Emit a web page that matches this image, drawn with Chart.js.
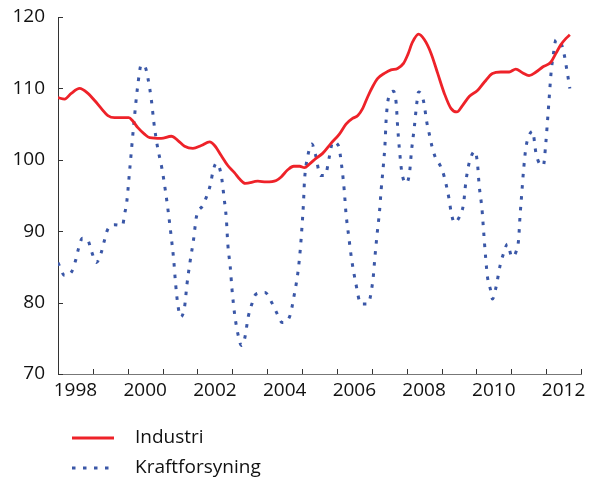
<!DOCTYPE html>
<html>
<head>
<meta charset="utf-8">
<script src="https://cdn.jsdelivr.net/npm/chart.js@4.4.1/dist/chart.umd.min.js"></script>
<style>
  html, body { margin: 0; padding: 0; background: #fff; }
  #wrap { width: 595px; height: 479px; }
</style>
</head>
<body>
<div id="wrap"><canvas id="chart" width="595" height="479"></canvas></div>
<script>
// Industri (red solid line): decimal year and index value
var industriYears = [
  1998.00, 1998.19, 1998.38, 1998.62, 1998.86, 1999.05, 1999.24, 1999.43, 1999.62, 1999.82,
  2000.03, 2000.15, 2000.29, 2000.48, 2000.63, 2000.96, 2001.25, 2001.44, 2001.63, 2001.87,
  2002.11, 2002.35, 2002.49, 2002.68, 2002.87, 2003.06, 2003.21, 2003.37, 2003.73, 2003.97,
  2004.26, 2004.40, 2004.59, 2004.76, 2004.93, 2005.07, 2005.21, 2005.40, 2005.59, 2005.83,
  2006.07, 2006.26, 2006.45, 2006.60, 2006.74, 2006.88, 2007.03, 2007.17, 2007.36, 2007.55,
  2007.74, 2007.91, 2008.03, 2008.17, 2008.34, 2008.51, 2008.70, 2008.89, 2009.08, 2009.27,
  2009.44, 2009.60, 2009.80, 2010.03, 2010.23, 2010.46, 2010.70, 2010.94, 2011.13, 2011.32,
  2011.51, 2011.71, 2011.90, 2012.14, 2012.28, 2012.42, 2012.57, 2012.68
];
var industriValues = [
  108.7, 108.5, 109.3, 110.0, 109.3, 108.3, 107.2, 106.2, 105.9, 105.9,
  105.9, 105.4, 104.5, 103.6, 103.1, 103.0, 103.3, 102.7, 101.9, 101.6,
  102.0, 102.5, 102.0, 100.6, 99.2, 98.2, 97.3, 96.7, 97.0, 96.9,
  97.1, 97.6, 98.6, 99.1, 99.1, 98.9, 99.4, 100.2, 100.9, 102.3,
  103.6, 105.0, 105.8, 106.2, 107.2, 108.8, 110.3, 111.4, 112.1, 112.6,
  112.8, 113.5, 114.7, 116.5, 117.6, 116.8, 114.9, 112.1, 109.3, 107.2,
  106.7, 107.6, 108.9, 109.7, 110.9, 112.1, 112.3, 112.3, 112.7, 112.2,
  111.8, 112.3, 113.0, 113.7, 114.9, 116.1, 117.0, 117.5
];

// Kraftforsyning (blue dotted line)
var kraftYears = [
  1998.00, 1998.19, 1998.40, 1998.51, 1998.59, 1998.70, 1998.86, 1998.96, 1999.10, 1999.24,
  1999.32, 1999.42, 1999.62, 1999.85, 1999.91, 1999.97, 2000.06, 2000.18, 2000.28, 2000.39,
  2000.50, 2000.58, 2000.68, 2000.75, 2000.85, 2000.98, 2001.08, 2001.17, 2001.25, 2001.32,
  2001.37, 2001.44, 2001.52, 2001.63, 2001.70, 2001.79, 2001.89, 2001.97, 2002.15, 2002.28,
  2002.38, 2002.44, 2002.54, 2002.68, 2002.76, 2002.83, 2002.87, 2002.94, 2002.99, 2003.06,
  2003.16, 2003.26, 2003.35, 2003.46, 2003.56, 2003.68, 2003.94, 2004.11, 2004.27, 2004.43,
  2004.64, 2004.78, 2004.88, 2004.95, 2005.00, 2005.04, 2005.07, 2005.16, 2005.28, 2005.38,
  2005.53, 2005.66, 2005.79, 2005.88, 2006.04, 2006.14, 2006.21, 2006.26, 2006.34, 2006.42,
  2006.53, 2006.69, 2006.88, 2007.03, 2007.09, 2007.15, 2007.22, 2007.27, 2007.33, 2007.38,
  2007.41, 2007.48, 2007.62, 2007.70, 2007.74, 2007.79, 2007.86, 2007.98, 2008.08, 2008.14,
  2008.22, 2008.29, 2008.34, 2008.48, 2008.58, 2008.65, 2008.72, 2008.81, 2008.97, 2009.08,
  2009.16, 2009.22, 2009.27, 2009.37, 2009.54, 2009.63, 2009.70, 2009.80, 2009.96, 2010.03,
  2010.08, 2010.16, 2010.21, 2010.26, 2010.32, 2010.40, 2010.46, 2010.56, 2010.68, 2010.78,
  2010.89, 2011.02, 2011.15, 2011.21, 2011.25, 2011.30, 2011.35, 2011.42, 2011.50, 2011.61,
  2011.71, 2011.82, 2011.92, 2011.99, 2012.04, 2012.09, 2012.14, 2012.22, 2012.28, 2012.42,
  2012.52, 2012.57, 2012.68
];
var kraftValues = [
  85.6, 83.8, 84.4, 86.0, 87.6, 89.0, 88.7, 87.2, 85.6, 87.0,
  88.5, 90.2, 90.9, 90.8, 92.4, 94.0, 98.8, 105.3, 110.1, 113.3,
  113.0, 111.4, 108.3, 105.2, 101.9, 98.8, 95.7, 92.4, 89.1, 85.9,
  82.8, 79.6, 78.0, 79.4, 82.6, 85.8, 88.9, 92.0, 93.6, 95.1,
  96.7, 98.3, 99.5, 97.9, 94.8, 91.6, 88.2, 85.0, 81.9, 78.6,
  75.6, 74.0, 74.9, 78.1, 79.8, 81.2, 81.4, 80.2, 78.6, 77.2,
  78.0, 81.2, 84.2, 87.5, 90.8, 93.9, 97.1, 100.4, 102.2, 100.8,
  97.8, 97.8, 100.6, 102.5, 102.0, 99.0, 95.7, 92.5, 89.2, 86.1,
  83.0, 79.8, 79.8, 83.1, 86.4, 89.5, 92.7, 95.9, 99.1, 102.3,
  105.5, 108.7, 109.6, 107.9, 104.7, 101.6, 98.3, 96.7, 98.1, 101.3,
  104.6, 107.9, 109.5, 108.3, 105.2, 103.6, 102.0, 100.5, 99.1, 97.6,
  95.9, 94.4, 92.8, 91.2, 92.3, 93.8, 97.0, 99.7, 101.2, 99.5,
  96.4, 93.1, 89.8, 86.6, 83.5, 81.9, 80.5, 82.1, 85.2, 86.9,
  88.2, 86.4, 87.3, 88.8, 92.0, 95.2, 98.4, 101.7, 103.3, 104.0,
  100.9, 99.4, 99.2, 102.3, 105.5, 108.8, 112.1, 115.2, 116.8, 116.4,
  114.7, 113.3, 110.0
];

var labelYears = [1998, 2000, 2002, 2004, 2006, 2008, 2010, 2012];
var yTicks = [70, 80, 90, 100, 110, 120];

var RED = '#ee2229';
var BLUE = '#3a57a7';
var FONT = '"Open Sans", sans-serif';

function toPoints(xs, ys) {
    return xs.map(function (x, i) { return { x: x, y: ys[i] }; });
}

// inward tick marks and the legend block below the axis
var extrasPlugin = {
    id: 'extras',
    afterDraw: function (chart) {
        var ctx = chart.ctx;
        var xs = chart.scales.x, ys = chart.scales.y;
        var area = chart.chartArea;
        ctx.save();
        ctx.lineWidth = 1;
        ctx.strokeStyle = '#333';
        for (var yr = 1998; yr <= 2013; yr++) {
            var px = Math.round(xs.getPixelForValue(yr)) + 0.5;
            ctx.beginPath();
            ctx.moveTo(px, area.bottom);
            ctx.lineTo(px, area.bottom - 5);
            ctx.stroke();
        }
        yTicks.forEach(function (v) {
            var py = Math.round(ys.getPixelForValue(v)) + 0.5;
            ctx.beginPath();
            ctx.moveTo(area.left, py);
            ctx.lineTo(area.left + 5, py);
            ctx.stroke();
        });

        // legend
        ctx.font = '19px ' + FONT;
        ctx.fillStyle = '#111';
        ctx.textBaseline = 'middle';
        chart.data.datasets.forEach(function (ds, i) {
            var y = 438 + i * 30;
            ctx.beginPath();
            ctx.strokeStyle = ds.borderColor;
            ctx.lineWidth = ds.borderWidth;
            ctx.setLineDash(ds.borderDash || []);
            ctx.moveTo(72, y);
            ctx.lineTo(114, y);
            ctx.stroke();
            ctx.setLineDash([]);
            ctx.fillText(ds.label, 135, y);
        });
        ctx.restore();
    }
};

var ctx = document.getElementById('chart').getContext('2d');
var chart = new Chart(ctx, {
    type: 'line',
    data: {
        datasets: [{
            label: 'Industri',
            data: toPoints(industriYears, industriValues),
            borderColor: RED,
            borderWidth: 2.8,
            pointRadius: 0,
            cubicInterpolationMode: 'monotone',
            fill: false
        }, {
            label: 'Kraftforsyning',
            data: toPoints(kraftYears, kraftValues),
            borderColor: BLUE,
            borderWidth: 3,
            borderDash: [3.5, 7.5],
            pointRadius: 0,
            cubicInterpolationMode: 'monotone',
            fill: false
        }]
    },
    options: {
        responsive: false,
        animation: false,
        layout: { padding: { left: 14, right: 14, top: 17, bottom: 74 } },
        plugins: {
            legend: { display: false },
            tooltip: { enabled: false }
        },
        scales: {
            x: {
                type: 'linear',
                min: 1998,
                max: 2013,
                afterBuildTicks: function (scale) {
                    scale.ticks = labelYears.map(function (y) { return { value: y + 0.5 }; });
                },
                afterFit: function (scale) {
                    scale.height = 31;
                    scale.paddingLeft = 0;
                    scale.paddingRight = 0;
                },
                ticks: {
                    autoSkip: false,
                    maxRotation: 0,
                    padding: 5,
                    color: '#111',
                    font: { family: FONT, size: 19 },
                    callback: function (v) { return String(Math.floor(v)); }
                },
                grid: { display: false, drawTicks: false },
                border: { display: true, color: '#777', width: 1 }
            },
            y: {
                min: 70,
                max: 120,
                afterFit: function (scale) {
                    scale.width = 44;
                    scale.paddingTop = 0;
                    scale.paddingBottom = 0;
                },
                ticks: {
                    stepSize: 10,
                    padding: 13,
                    color: '#111',
                    font: { family: FONT, size: 19 }
                },
                grid: { display: false, drawTicks: false },
                border: { display: true, color: '#333', width: 1 }
            }
        }
    },
    plugins: [extrasPlugin]
});
</script>
</body>
</html>
